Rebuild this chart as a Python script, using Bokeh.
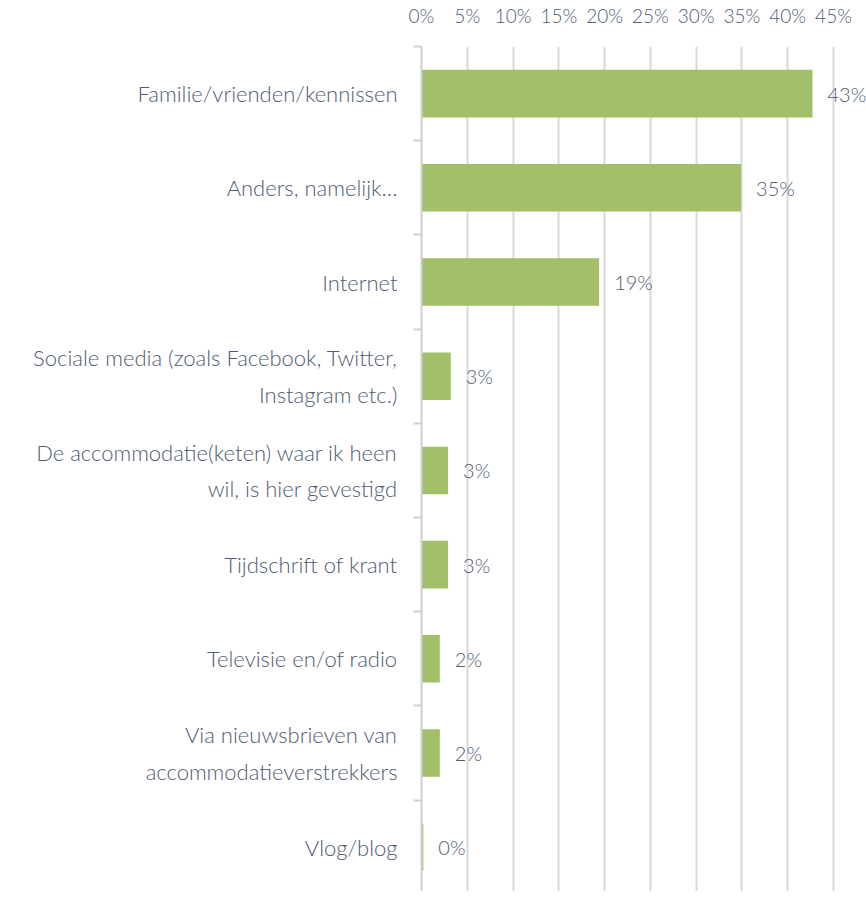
from bokeh.plotting import figure
from bokeh.models import Range1d, FixedTicker, LinearAxis, PrintfTickFormatter, ColumnDataSource, Grid
from bokeh.core.properties import value
from bokeh.embed import file_html
from bokeh.resources import INLINE

categories = [
    "Familie/vrienden/kennissen",
    "Anders, namelijk\u2026",
    "Internet",
    "Sociale media (zoals Facebook, Twitter,\nInstagram etc.)",
    "De accommodatie(keten) waar ik heen\nwil, is hier gevestigd",
    "Tijdschrift of krant",
    "Televisie en/of radio",
    "Via nieuwsbrieven van\naccommodatieverstrekkers",
    "Vlog/blog",
]
values = [42.7, 34.9, 19.4, 3.2, 2.9, 2.9, 2.0, 2.0, 0.2]
value_labels = ["43%", "35%", "19%", "3%", "3%", "3%", "2%", "2%", "0%"]
x_ticks = [0, 5, 10, 15, 20, 25, 30, 35, 40, 45]

FONT = "Lato Light, Lato"
TXT = "#505c72"
GRID = "#d9d9d9"

n = len(categories)
centers = [i + 0.5 for i in range(n)]

src = ColumnDataSource(dict(y=centers, v=values, lab=value_labels))

p = figure(width=866, height=891, output_backend="svg", toolbar_location=None,
           x_range=Range1d(0, 48.6), y_range=Range1d(8.97, 0),
           x_axis_location=None, y_axis_location=None,
           min_border_left=421, min_border_top=39, min_border_right=0, min_border_bottom=0)
p.outline_line_color = None
p.background_fill_color = "white"

# top axis
xa = LinearAxis(ticker=FixedTicker(ticks=x_ticks), formatter=PrintfTickFormatter(format="%d%%"))
xa.axis_line_color = None
xa.major_tick_line_color = None
xa.minor_tick_line_color = None
xa.major_label_text_font = FONT
xa.major_label_text_font_size = "19px"
xa.major_label_text_color = TXT
xa.major_label_standoff = 14
p.add_layout(xa, "above")

# left axis
ya = LinearAxis(ticker=FixedTicker(ticks=centers, minor_ticks=list(range(n + 1))))
ya.major_label_overrides = {c: lab for c, lab in zip(centers, categories)}
ya.axis_line_color = "#d0d0d0"
ya.axis_line_width = 2
ya.major_tick_line_color = None
ya.major_tick_out = 0
ya.major_tick_in = 0
ya.minor_tick_line_color = "#d0d0d0"
ya.minor_tick_line_width = 2
ya.minor_tick_out = 8
ya.minor_tick_in = 0
ya.major_label_text_font = FONT
ya.major_label_text_font_size = "22px"
ya.major_label_text_color = TXT
ya.major_label_text_line_height = 1.35
ya.major_label_text_align = "center"
ya.major_label_standoff = 16
p.add_layout(ya, "left")

p.xgrid.grid_line_color = None
p.ygrid.grid_line_color = None

g = Grid(dimension=0, ticker=FixedTicker(ticks=x_ticks[1:]), grid_line_color=GRID, grid_line_width=2)
p.add_layout(g)

p.hbar(y="y", left=0, right="v", height=0.505, source=src, fill_color="#a2bf69", line_color=None)
p.text(x="v", y="y", text="lab", source=src, x_offset=15, text_align="left", text_baseline="middle",
       text_font=value(FONT), text_font_size="20px", text_color=TXT)

open("out.html", "w").write(file_html(p, INLINE))
